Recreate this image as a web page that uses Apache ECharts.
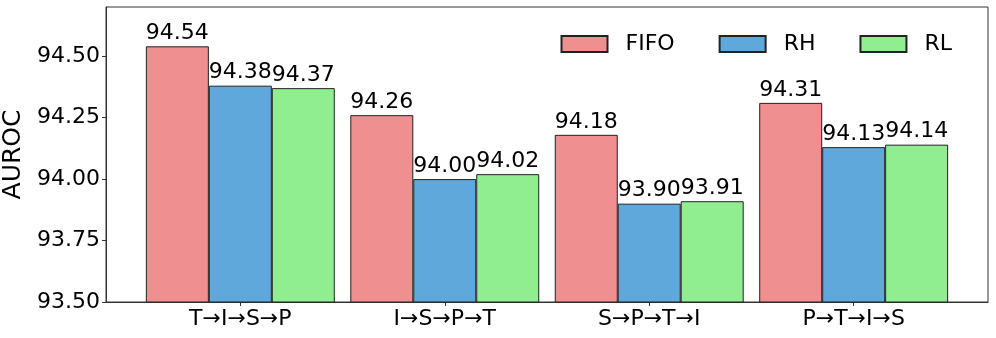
<!DOCTYPE html>
<html>
<head>
<meta charset="utf-8">
<script src="https://cdn.jsdelivr.net/npm/echarts@6/dist/echarts.min.js"></script>
<style>
  html, body { margin: 0; padding: 0; background: #fff; }
  #main { width: 996px; height: 338px; }
</style>
</head>
<body>
<div id="main"></div>
<script>
const categories = ['T→I→S→P', 'I→S→P→T', 'S→P→T→I', 'P→T→I→S']
const seriesNames = ['FIFO', 'RH', 'RL']
const fifo = [94.54, 94.26, 94.18, 94.31]
const rh = [94.38, 94.00, 93.90, 94.13]
const rl = [94.37, 94.02, 93.91, 94.14]
const yTicks = [93.5, 93.75, 94.0, 94.25, 94.5]

const colors = ['#F08F8F', '#5FA8DC', '#90EE90']
const offsets = [-0.308, 0, 0.308]
const font = 'DejaVu Sans'

const chart = echarts.init(document.getElementById('main'), null, { renderer: 'canvas' })

const makeSeries = (name, values, i) => ({
  name: name,
  type: 'bar',
  barWidth: 63,
  barGap: '-100%',
  itemStyle: { color: colors[i], borderColor: '#222', borderWidth: 1 },
  label: {
    show: true,
    position: 'top',
    distance: 2,
    color: '#000',
    fontFamily: font,
    fontSize: 22,
    formatter: (p) => p.value[1].toFixed(2),
  },
  data: values.map((v, k) => [k + offsets[i], v]),
})

const option = {
  animation: false,
  grid: {
    left: 106, right: 8, top: 7, bottom: 36,
    outerBoundsMode: 'none',
    containLabel: false,
    show: true, borderColor: '#333', borderWidth: 1,
  },
  legend: {
    right: 39,
    top: 28,
    itemWidth: 46,
    itemHeight: 16,
    itemGap: 44,
    icon: 'rect',
    textStyle: { fontFamily: font, fontSize: 22, color: '#000', padding: [0, 0, 0, 13] },
    data: seriesNames,
  },
  xAxis: {
    type: 'value',
    min: -0.657,
    max: 3.657,
    splitLine: { show: false },
    axisLine: { onZero: false, lineStyle: { color: '#333' } },
    axisTick: { show: true, length: 4, customValues: [0, 1, 2, 3], lineStyle: { color: '#333' } },
    axisLabel: {
      customValues: [0, 1, 2, 3],
      formatter: (v) => categories[Math.round(v)],
      fontFamily: font, fontSize: 22, color: '#000', margin: 6,
    },
  },
  yAxis: {
    type: 'value',
    min: 93.5,
    max: 94.7,
    name: 'AUROC',
    nameLocation: 'middle',
    nameGap: 77,
    nameTextStyle: { fontFamily: font, fontSize: 25, color: '#000' },
    splitLine: { show: false },
    axisLine: { show: true, onZero: false, lineStyle: { color: '#333' } },
    axisTick: { show: true, length: 4, customValues: yTicks, lineStyle: { color: '#333' } },
    axisLabel: {
      customValues: yTicks,
      formatter: (v) => v.toFixed(2),
      fontFamily: font, fontSize: 22, color: '#000', margin: 6,
    },
  },
  series: [
    makeSeries('FIFO', fifo, 0),
    makeSeries('RH', rh, 1),
    makeSeries('RL', rl, 2),
  ],
}

chart.setOption(option)
</script>
</body>
</html>
